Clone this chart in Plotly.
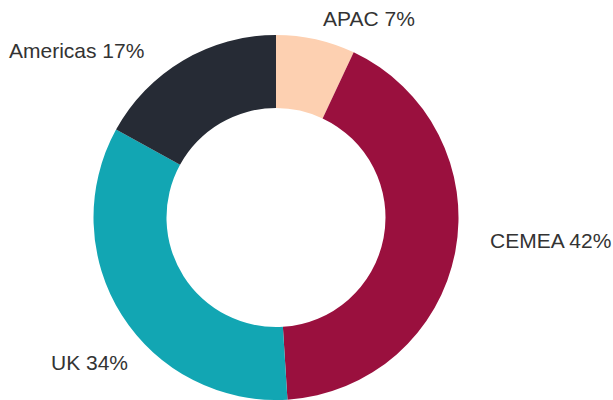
import plotly.graph_objects as go

regions = ["APAC", "CEMEA", "UK", "Americas"]
shares = [7, 42, 34, 17]
colors = ["#FDD0B1", "#9A103E", "#12A6B3", "#262B35"]

# label placement in page pixels (x, y of text middle, xanchor)
label_pos = {
    "APAC": (321, 19, "left"),
    "CEMEA": (488, 240, "left"),
    "UK": (49, 362, "left"),
    "Americas": (146, 50, "right"),
}

W, H = 613, 400
TOP = 35
cx, r = 276, 183
plot_h = H - TOP

fig = go.Figure(go.Pie(
    labels=regions,
    values=shares,
    sort=False,
    direction="clockwise",
    rotation=0,
    hole=0.6,
    marker=dict(colors=colors, line=dict(width=0)),
    textinfo="none",
    hoverinfo="label+percent",
    domain=dict(x=[(cx - r) / W, (cx + r) / W], y=[0, 1]),
    showlegend=False,
))

total = sum(shares)
for name, v in zip(regions, shares):
    px, py, anchor = label_pos[name]
    fig.add_annotation(
        x=px / W, y=(H - py) / plot_h, xref="paper", yref="paper",
        text=f"{name} {round(100 * v / total)}%",
        showarrow=False, xanchor=anchor, yanchor="middle",
        font=dict(family="Liberation Sans, Arial, sans-serif", size=21, color="#333333"),
    )

fig.update_layout(
    width=W, height=H,
    margin=dict(l=0, r=0, t=TOP, b=0),
    paper_bgcolor="white",
    plot_bgcolor="white",
)

fig.write_html("out.html")
